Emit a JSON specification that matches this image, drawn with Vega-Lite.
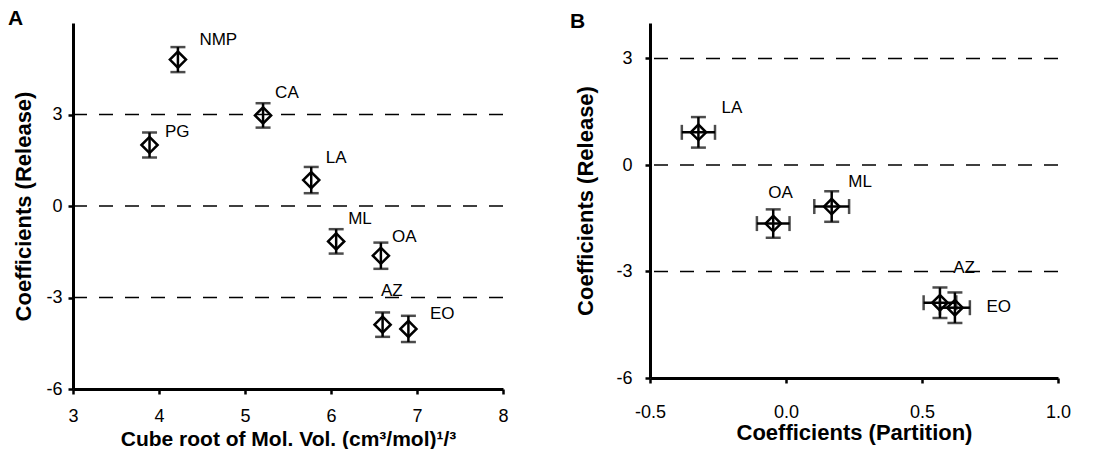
{
  "$schema": "https://vega.github.io/schema/vega-lite/v6.json",
  "padding": {"left": 8, "top": 8, "right": 0, "bottom": 0},
  "background": "white",
  "spacing": 147,
  "bounds": "flush",
  "datasets": {
    "a": [
      {"name": "NMP", "x": 4.22, "y": 4.8, "ylo": 4.39, "yhi": 5.21, "lx": 4.47, "ly": 5.45},
      {"name": "PG", "x": 3.89, "y": 2.0, "ylo": 1.59, "yhi": 2.41, "lx": 4.07, "ly": 2.44},
      {"name": "CA", "x": 5.21, "y": 2.97, "ylo": 2.57, "yhi": 3.37, "lx": 5.35, "ly": 3.72},
      {"name": "LA", "x": 5.77, "y": 0.85, "ylo": 0.42, "yhi": 1.28, "lx": 5.94, "ly": 1.59},
      {"name": "ML", "x": 6.06, "y": -1.16, "ylo": -1.56, "yhi": -0.76, "lx": 6.2, "ly": -0.43},
      {"name": "OA", "x": 6.58, "y": -1.63, "ylo": -2.06, "yhi": -1.2, "lx": 6.71, "ly": -1.03},
      {"name": "AZ", "x": 6.6, "y": -3.89, "ylo": -4.29, "yhi": -3.49, "lx": 6.58, "ly": -2.79},
      {"name": "EO", "x": 6.9, "y": -4.03, "ylo": -4.46, "yhi": -3.6, "lx": 7.15, "ly": -3.54}
    ],
    "b": [
      {"name": "LA", "x": -0.322, "y": 0.92, "xlo": -0.383, "xhi": -0.261, "ylo": 0.49, "yhi": 1.35, "lx": -0.237, "ly": 1.6},
      {"name": "OA", "x": -0.047, "y": -1.65, "xlo": -0.107, "xhi": 0.013, "ylo": -2.05, "yhi": -1.25, "lx": -0.065, "ly": -0.8},
      {"name": "ML", "x": 0.168, "y": -1.17, "xlo": 0.104, "xhi": 0.232, "ylo": -1.6, "yhi": -0.74, "lx": 0.229, "ly": -0.47},
      {"name": "AZ", "x": 0.566, "y": -3.88, "xlo": 0.506, "xhi": 0.626, "ylo": -4.31, "yhi": -3.45, "lx": 0.615, "ly": -2.91},
      {"name": "EO", "x": 0.621, "y": -4.02, "xlo": 0.566, "xhi": 0.676, "ylo": -4.45, "yhi": -3.59, "lx": 0.737, "ly": -3.99}
    ],
    "refs": [{"r": 3}, {"r": 0}, {"r": -3}]
  },
  "config": {
    "view": {"stroke": null},
    "font": "Liberation Sans",
    "axis": {
      "grid": false,
      "domainColor": "black",
      "domainWidth": 3,
      "tickColor": "black",
      "tickWidth": 2.5,
      "tickSize": 5,
      "labelColor": "black",
      "labelFont": "Liberation Sans",
      "labelFontSize": 18,
      "titleColor": "black",
      "titleFont": "Liberation Sans",
      "titleFontSize": 22,
      "titleFontWeight": "bold"
    },
    "axisX": {"labelPadding": 13, "titlePadding": 3, "labelFlush": false},
    "axisY": {"labelPadding": 6, "titlePadding": 10},
    "title": {"font": "Liberation Sans", "fontSize": 21, "fontWeight": "bold", "color": "black", "anchor": "start", "frame": "group"}
  },
  "hconcat": [
    {
      "width": 430,
      "height": 366,
      "title": {"text": "A", "dx": -65, "dy": 10},
      "layer": [
        {
          "data": {"name": "refs"},
          "mark": {"type": "rule", "strokeDash": [14, 12], "strokeWidth": 1.5, "color": "black"},
          "encoding": {"y": {"field": "r", "type": "quantitative", "scale": {"domain": [-6, 6], "nice": false}}}
        },
        {
          "data": {"name": "a"},
          "mark": {"type": "rule", "strokeWidth": 2.5, "color": "black"},
          "encoding": {
            "x": {"field": "x", "type": "quantitative", "scale": {"domain": [3, 8], "nice": false},
                  "axis": {"values": [3, 4, 5, 6, 7, 8], "title": "Cube root of Mol. Vol. (cm³/mol)¹/³", "titleFontSize": 21, "labelExpr": "'' + datum.value"}},
            "y": {"field": "ylo", "type": "quantitative", "scale": {"domain": [-6, 6], "nice": false},
                  "axis": {"values": [-6, -3, 0, 3], "title": "Coefficients (Release)", "labelExpr": "'' + datum.value"}},
            "y2": {"field": "yhi"}
          }
        },
        {
          "data": {"name": "a"},
          "mark": {"type": "tick", "orient": "horizontal", "size": 15, "thickness": 2.5, "color": "black"},
          "encoding": {"x": {"field": "x", "type": "quantitative"}, "y": {"field": "ylo", "type": "quantitative"}}
        },
        {
          "data": {"name": "a"},
          "mark": {"type": "tick", "orient": "horizontal", "size": 15, "thickness": 2.5, "color": "black"},
          "encoding": {"x": {"field": "x", "type": "quantitative"}, "y": {"field": "yhi", "type": "quantitative"}}
        },
        {
          "data": {"name": "a"},
          "mark": {"type": "point", "shape": "diamond", "filled": false, "size": 260, "strokeWidth": 2.5, "color": "black", "opacity": 1},
          "encoding": {"x": {"field": "x", "type": "quantitative"}, "y": {"field": "y", "type": "quantitative"}}
        },
        {
          "data": {"name": "a"},
          "mark": {"type": "text", "align": "left", "baseline": "middle", "fontSize": 17, "font": "Liberation Sans", "color": "black"},
          "encoding": {"x": {"field": "lx", "type": "quantitative"}, "y": {"field": "ly", "type": "quantitative"}, "text": {"field": "name"}}
        }
      ]
    },
    {
      "width": 408,
      "height": 355,
      "title": {"text": "B", "dx": -80, "dy": 13},
      "layer": [
        {
          "data": {"name": "refs"},
          "mark": {"type": "rule", "strokeDash": [14, 12], "strokeWidth": 1.5, "color": "black"},
          "encoding": {"y": {"field": "r", "type": "quantitative", "scale": {"domain": [-6, 4], "nice": false}}}
        },
        {
          "data": {"name": "b"},
          "mark": {"type": "rule", "strokeWidth": 2.5, "color": "black"},
          "encoding": {
            "x": {"field": "x", "type": "quantitative", "scale": {"domain": [-0.5, 1], "nice": false},
                  "axis": {"values": [-0.5, 0, 0.5, 1], "title": "Coefficients (Partition)", "labelPadding": 20, "titlePadding": 1,
                           "labelExpr": "datum.value === 0 ? '0.0' : datum.value === 1 ? '1.0' : '' + datum.value"}},
            "y": {"field": "ylo", "type": "quantitative", "scale": {"domain": [-6, 4], "nice": false},
                  "axis": {"values": [-6, -3, 0, 3], "title": "Coefficients (Release)", "labelPadding": 13, "titlePadding": 18, "labelExpr": "'' + datum.value"}},
            "y2": {"field": "yhi"}
          }
        },
        {
          "data": {"name": "b"},
          "mark": {"type": "rule", "strokeWidth": 2.5, "color": "black"},
          "encoding": {"x": {"field": "xlo", "type": "quantitative"}, "x2": {"field": "xhi"}, "y": {"field": "y", "type": "quantitative"}}
        },
        {
          "data": {"name": "b"},
          "mark": {"type": "tick", "orient": "horizontal", "size": 15, "thickness": 2.5, "color": "black"},
          "encoding": {"x": {"field": "x", "type": "quantitative"}, "y": {"field": "ylo", "type": "quantitative"}}
        },
        {
          "data": {"name": "b"},
          "mark": {"type": "tick", "orient": "horizontal", "size": 15, "thickness": 2.5, "color": "black"},
          "encoding": {"x": {"field": "x", "type": "quantitative"}, "y": {"field": "yhi", "type": "quantitative"}}
        },
        {
          "data": {"name": "b"},
          "mark": {"type": "tick", "orient": "vertical", "size": 15, "thickness": 2.5, "color": "black"},
          "encoding": {"x": {"field": "xlo", "type": "quantitative"}, "y": {"field": "y", "type": "quantitative"}}
        },
        {
          "data": {"name": "b"},
          "mark": {"type": "tick", "orient": "vertical", "size": 15, "thickness": 2.5, "color": "black"},
          "encoding": {"x": {"field": "xhi", "type": "quantitative"}, "y": {"field": "y", "type": "quantitative"}}
        },
        {
          "data": {"name": "b"},
          "mark": {"type": "point", "shape": "diamond", "filled": false, "size": 240, "strokeWidth": 2.5, "color": "black", "opacity": 1},
          "encoding": {"x": {"field": "x", "type": "quantitative"}, "y": {"field": "y", "type": "quantitative"}}
        },
        {
          "data": {"name": "b"},
          "mark": {"type": "text", "align": "left", "baseline": "middle", "fontSize": 17, "font": "Liberation Sans", "color": "black"},
          "encoding": {"x": {"field": "lx", "type": "quantitative"}, "y": {"field": "ly", "type": "quantitative"}, "text": {"field": "name"}}
        }
      ]
    }
  ]
}
